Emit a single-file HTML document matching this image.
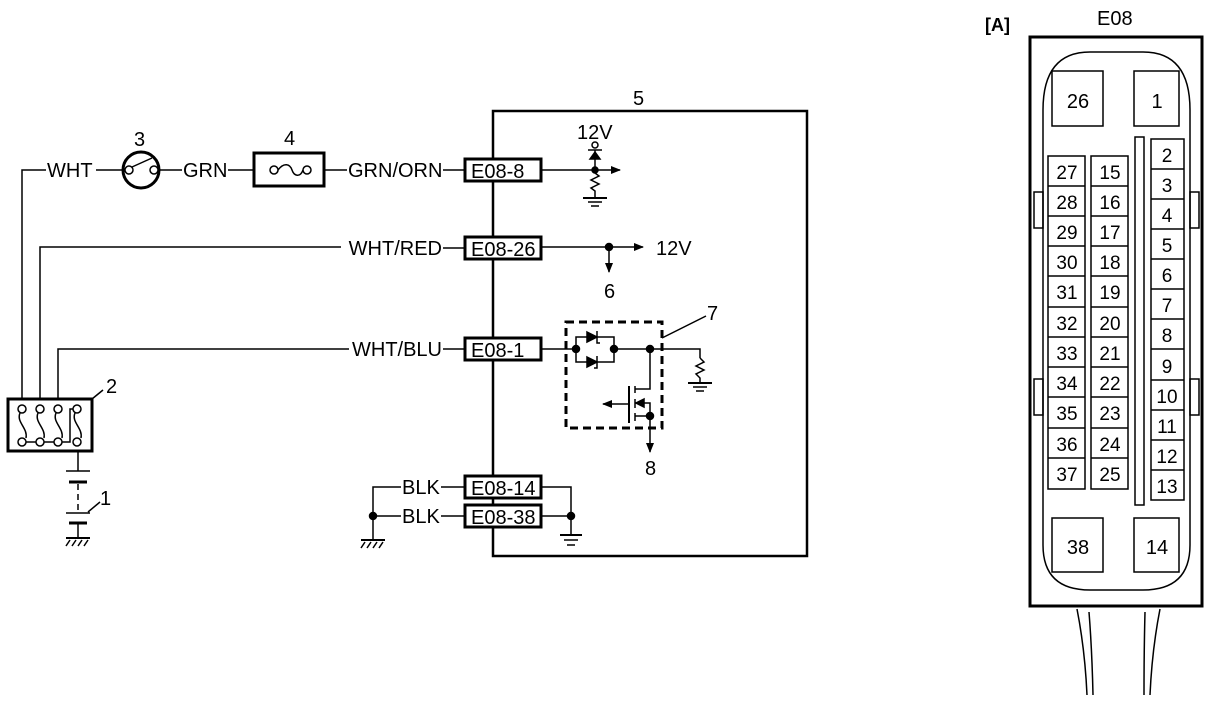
<!DOCTYPE html>
<html><head><meta charset="utf-8"><style>
html,body{margin:0;padding:0;background:#fff;}
svg{display:block;}
text{font-family:"Liberation Sans",sans-serif;fill:#000;}
</style></head><body>
<svg width="1213" height="710" viewBox="0 0 1213 710" xmlns="http://www.w3.org/2000/svg">
<defs>
<marker id="ar" markerWidth="10" markerHeight="8" refX="9" refY="4" orient="auto" markerUnits="userSpaceOnUse"><path d="M0,0 L10,4 L0,8 z" fill="#000"/></marker>
</defs>
<g stroke="#000" fill="none" stroke-width="1.5">
<rect x="493" y="111" width="314" height="445" stroke-width="2.5"/>
<rect x="465" y="159" width="76" height="22" fill="#fff" stroke-width="3"/>
<rect x="465" y="237" width="76" height="22" fill="#fff" stroke-width="3"/>
<rect x="465" y="338" width="76" height="22" fill="#fff" stroke-width="3"/>
<rect x="465" y="476" width="76" height="22" fill="#fff" stroke-width="3"/>
<rect x="465" y="505" width="76" height="22" fill="#fff" stroke-width="3"/>
<path d="M22,400 V170 H46"/>
<path d="M96,170 H123"/>
<circle cx="141" cy="170" r="18" stroke-width="3"/>
<circle cx="129" cy="170" r="4"/>
<circle cx="154" cy="170" r="4"/>
<path d="M132,167 L152,158"/>
<path d="M159,170 H182"/>
<path d="M228,170 H254"/>
<rect x="254" y="153" width="70" height="33" stroke-width="3"/>
<circle cx="274" cy="170" r="4"/><circle cx="307" cy="170" r="4"/>
<path d="M278,170 C284,162 290,164 292,170 C294,176 300,178 303,170"/>
<path d="M324,170 H347"/>
<path d="M443,170 H465"/>
<path d="M40,400 V247 H341"/>
<path d="M443,248 H465"/>
<path d="M58,400 V349 H349"/>
<path d="M443,349 H465"/>
<rect x="8" y="399" width="84" height="52" stroke-width="3"/>
<circle cx="22" cy="409" r="4"/><circle cx="40" cy="409" r="4"/><circle cx="58" cy="409" r="4"/><circle cx="77" cy="409" r="4"/>
<circle cx="22" cy="442" r="4"/><circle cx="40" cy="442" r="4"/><circle cx="58" cy="442" r="4"/><circle cx="77" cy="442" r="4"/>
<path d="M20,413 C16,422 28,428 26,438"/>
<path d="M38,413 C34,422 46,428 44,438"/>
<path d="M56,413 C52,422 64,428 62,438"/>
<path d="M75,413 C71,422 83,428 81,438"/>
<path d="M26,442 H36 M44,442 H54 M62,442 H70 V409 H73"/>
<path d="M92,399 L103,390"/>
<path d="M78,451 V471"/>
<path d="M66,471 H90"/>
<path d="M69,482 H87" stroke-width="3"/>
<path d="M78,484 V513" stroke-dasharray="6,4"/>
<path d="M66,513 H90"/>
<path d="M69,523 H87" stroke-width="3"/>
<path d="M78,523 V538"/>
<path d="M66,538 H90" stroke-width="2"/>
<path d="M70,540 L66,546 M76,540 L72,546 M82,540 L78,546 M88,540 L84,546"/>
<path d="M88,512 L100,502"/>
<path d="M541,170 H620" marker-end="url(#ar)"/>
<circle cx="595" cy="145" r="3"/>
<path d="M588,150 H602"/>
<path d="M595,150 V170"/>
<path d="M590,159 L595,152 L600,159 z" fill="#000"/>
<circle cx="595" cy="170" r="3" fill="#000"/>
<path d="M595,173 L599,176 L591,180 L599,184 L591,188 L595,191 V198"/>
<path d="M583,198 H607" stroke-width="2"/>
<path d="M588,202 H602 M591,206 H599"/>
<path d="M541,247 H643" marker-end="url(#ar)"/>
<circle cx="609" cy="247" r="3.5" fill="#000"/>
<path d="M609,247 V272" marker-end="url(#ar)"/>
<rect x="566" y="322" width="96" height="106" stroke-width="3" stroke-dasharray="8,5"/>
<path d="M662,338 L706,316"/>
<path d="M541,349 H576"/>
<path d="M576,349 V337 H614 V349 M576,349 V362 H614 V349"/>
<path d="M587,332 L597,337 L587,342 z" fill="#000"/>
<path d="M587,357 L597,362 L587,367 z" fill="#000"/>
<path d="M597,331 V343 L600,343 M597,356 V368 L594,368"/>
<circle cx="576" cy="349" r="3.5" fill="#000"/>
<circle cx="614" cy="349" r="3.5" fill="#000"/>
<path d="M614,349 H700 V358"/>
<circle cx="650" cy="349" r="3.5" fill="#000"/>
<path d="M700,358 L704,362 L696,366 L704,370 L696,374 L700,378 V382"/>
<path d="M688,383 H712" stroke-width="2"/>
<path d="M693,387 H707 M696,391 H704"/>
<path d="M650,349 V389 H635"/>
<path d="M629,386 V423" stroke-width="2"/>
<path d="M635,386 V393 M635,399 V408 M635,413 V421"/>
<path d="M635,403 H650 V416 H635"/>
<path d="M644,399 L636,403 L644,407 z" fill="#000"/>
<path d="M629,404 H603" marker-end="url(#ar)"/>
<circle cx="650" cy="416" r="3.5" fill="#000"/>
<path d="M650,416 V452" marker-end="url(#ar)"/>
<path d="M373,540 V487 H401"/>
<path d="M373,516 H401"/>
<circle cx="373" cy="516" r="3.5" fill="#000"/>
<path d="M441,487 H465 M441,516 H465"/>
<path d="M361,540 H385" stroke-width="2"/>
<path d="M365,542 L361,548 M371,542 L367,548 M377,542 L373,548 M383,542 L379,548"/>
<path d="M541,487 H571 V535 M541,516 H571"/>
<circle cx="571" cy="516" r="3.5" fill="#000"/>
<path d="M560,535 H582" stroke-width="2"/>
<path d="M564,540 H578 M567,545 H575"/>
<rect x="1030" y="37" width="172" height="569" stroke-width="3"/>
<path d="M1043,110 Q1043,52 1090,52 H1143 Q1190,52 1190,110 V545 Q1190,590 1143,590 H1090 Q1043,590 1043,545 Z"/>
<rect x="1034" y="192" width="9" height="36"/><rect x="1190" y="192" width="9" height="36"/>
<rect x="1034" y="379" width="9" height="36"/><rect x="1190" y="379" width="9" height="36"/>
<rect x="1052" y="71" width="51" height="55"/><rect x="1134" y="71" width="45" height="55"/>
<rect x="1052" y="518" width="51" height="54"/><rect x="1134" y="518" width="45" height="54"/>
<rect x="1135" y="137" width="9" height="368"/>
<rect x="1048" y="156" width="37" height="333"/>
<rect x="1091" y="156" width="37" height="333"/>
<path d="M1048,186 H1085 M1048,216 H1085 M1048,246 H1085 M1048,276 H1085 M1048,307 H1085 M1048,337 H1085 M1048,367 H1085 M1048,397 H1085 M1048,428 H1085 M1048,458 H1085"/>
<path d="M1091,186 H1128 M1091,216 H1128 M1091,246 H1128 M1091,276 H1128 M1091,307 H1128 M1091,337 H1128 M1091,367 H1128 M1091,397 H1128 M1091,428 H1128 M1091,458 H1128"/>
<rect x="1151" y="139" width="33" height="361"/>
<path d="M1151,169 H1184 M1151,199 H1184 M1151,229 H1184 M1151,259 H1184 M1151,289 H1184 M1151,319 H1184 M1151,349 H1184 M1151,380 H1184 M1151,410 H1184 M1151,440 H1184 M1151,470 H1184"/>
<path d="M1077,609 Q1085,650 1087,695 M1089,612 Q1092,650 1093,695 M1145,612 Q1144,650 1144,695 M1160,609 Q1152,650 1150,695"/>
</g>
<g font-size="20">
<text x="47" y="177">WHT</text>
<text x="183" y="177">GRN</text>
<text x="348" y="177">GRN/ORN</text>
<text x="442" y="255" text-anchor="end">WHT/RED</text>
<text x="442" y="356" text-anchor="end">WHT/BLU</text>
<text x="402" y="494">BLK</text>
<text x="402" y="523">BLK</text>
<text x="656" y="255">12V</text>
<text x="577" y="139">12V</text>
<text x="134" y="146">3</text>
<text x="284" y="145">4</text>
<text x="633" y="105">5</text>
<text x="604" y="298">6</text>
<text x="707" y="320">7</text>
<text x="645" y="475">8</text>
<text x="106" y="393">2</text>
<text x="100" y="505">1</text>
<text x="985" y="31" font-weight="bold" font-size="18">[A]</text>
<text x="1097" y="25">E08</text>
<text x="1078" y="108" text-anchor="middle">26</text>
<text x="1157" y="108" text-anchor="middle">1</text>
<text x="1078" y="554" text-anchor="middle">38</text>
<text x="1157" y="554" text-anchor="middle">14</text>
</g>
<g font-size="20">
<text x="471" y="178">E08-8</text>
<text x="471" y="256">E08-26</text>
<text x="471" y="357">E08-1</text>
<text x="471" y="495">E08-14</text>
<text x="471" y="524">E08-38</text>
</g>
<g font-size="19" text-anchor="middle">
<text x="1067" y="179">27</text><text x="1067" y="209">28</text><text x="1067" y="239">29</text><text x="1067" y="269">30</text><text x="1067" y="299">31</text><text x="1067" y="330">32</text><text x="1067" y="360">33</text><text x="1067" y="390">34</text><text x="1067" y="420">35</text><text x="1067" y="451">36</text><text x="1067" y="481">37</text>
<text x="1110" y="179">15</text><text x="1110" y="209">16</text><text x="1110" y="239">17</text><text x="1110" y="269">18</text><text x="1110" y="299">19</text><text x="1110" y="330">20</text><text x="1110" y="360">21</text><text x="1110" y="390">22</text><text x="1110" y="420">23</text><text x="1110" y="451">24</text><text x="1110" y="481">25</text>
<text x="1167" y="162">2</text><text x="1167" y="192">3</text><text x="1167" y="222">4</text><text x="1167" y="252">5</text><text x="1167" y="282">6</text><text x="1167" y="312">7</text><text x="1167" y="342">8</text><text x="1167" y="373">9</text><text x="1167" y="403">10</text><text x="1167" y="433">11</text><text x="1167" y="463">12</text><text x="1167" y="493">13</text>
</g>
</svg>
</body></html>
